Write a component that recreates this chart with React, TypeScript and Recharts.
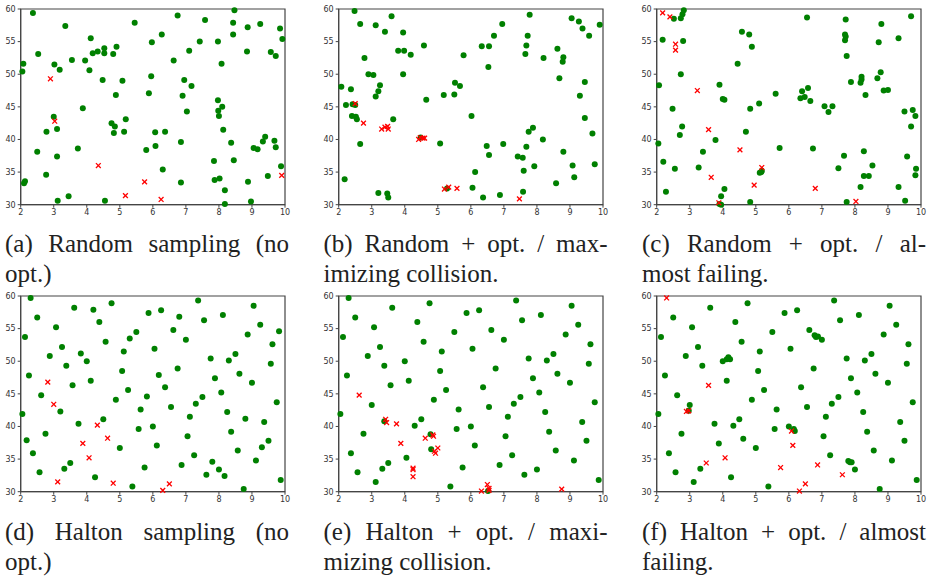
import { ScatterChart, Scatter, XAxis, YAxis, ReferenceArea } from "recharts"

type Pt = [number, number]

const xTicks = [2, 3, 4, 5, 6, 7, 8, 9, 10]
const yTicks = [30, 35, 40, 45, 50, 55, 60]

// (a) random sampling, no optimisation
const randomFree: Pt[] = [
  [2.37, 59.4], [3.35, 57.4], [5.45, 57.9], [6.75, 59.0], [7.58, 58.3], [8.47, 59.8], [8.43, 57.9],
  [8.87, 57.2], [9.25, 57.7], [9.85, 57.0], [9.92, 55.4], [8.43, 56.1], [6.27, 56.1], [7.42, 55.0],
  [7.97, 55.0], [5.97, 54.9], [4.12, 55.5], [4.53, 54.0], [4.9, 54.2], [4.33, 53.5], [4.18, 53.2],
  [4.53, 53.2], [4.8, 53.1], [7.1, 53.6], [8.85, 53.5], [9.57, 53.4], [9.72, 52.8], [2.53, 53.1],
  [2.08, 51.6], [3.02, 51.5], [3.18, 50.7], [3.55, 52.2], [3.95, 52.1], [4.08, 50.6], [6.63, 52.1],
  [8.08, 51.6], [2.05, 50.4], [4.48, 49.1], [5.08, 49.0], [5.95, 49.7], [6.95, 49.1], [7.17, 48.2],
  [5.88, 47.1], [4.88, 46.8], [6.9, 46.7], [7.97, 46.0], [8.1, 45.0], [7.98, 44.4], [8.0, 43.6],
  [7.03, 44.3], [3.88, 44.8], [3.0, 43.5], [5.18, 43.1], [4.75, 42.5], [4.85, 42.0], [3.1, 41.6],
  [2.78, 41.2], [4.82, 41.0], [5.13, 41.2], [6.07, 41.1], [6.37, 41.2], [8.13, 41.5], [9.4, 40.4],
  [9.33, 39.7], [9.68, 39.8], [9.05, 38.7], [9.17, 38.5], [9.72, 38.8], [8.37, 39.5], [6.85, 39.6],
  [6.08, 39.0], [3.73, 38.6], [5.8, 38.4], [2.5, 38.1], [3.1, 37.4], [7.85, 36.7], [8.45, 36.8],
  [9.88, 35.9], [9.48, 34.4], [6.3, 35.4], [2.77, 34.6], [2.13, 33.6], [2.1, 33.3], [6.85, 33.4],
  [7.87, 33.8], [8.02, 34.0], [8.88, 33.5], [8.18, 32.2], [3.45, 31.3], [3.12, 30.6], [4.55, 30.6],
  [8.97, 30.5], [8.18, 30.1],
]
const randomHit: Pt[] = [
  [2.9, 49.3], [3.03, 42.8], [4.35, 36.0], [5.75, 33.5], [5.17, 31.4], [6.25, 30.8], [9.9, 34.5],
]

// (b) random + opt, maximizing collision
const randomMaxFree: Pt[] = [
  [2.48, 59.7], [3.6, 58.9], [2.65, 57.7], [3.12, 57.5], [3.4, 56.5], [3.95, 56.4], [6.95, 57.7],
  [7.78, 59.1], [9.05, 58.6], [9.27, 58.1], [9.38, 57.0], [9.9, 57.6], [9.58, 55.9], [7.72, 55.9],
  [6.7, 55.9], [4.58, 54.4], [6.33, 54.3], [6.55, 54.3], [7.68, 54.4], [7.65, 53.1], [8.62, 53.9],
  [3.8, 53.6], [3.98, 53.6], [4.18, 53.0], [5.78, 52.9], [2.78, 52.5], [8.2, 52.5], [8.8, 52.6],
  [8.78, 51.9], [6.53, 51.1], [2.9, 50.0], [3.05, 49.9], [3.95, 50.0], [8.68, 49.4], [9.45, 48.8],
  [5.52, 48.7], [5.67, 48.2], [3.25, 48.3], [2.08, 48.1], [2.37, 47.7], [3.2, 47.4], [5.18, 46.8],
  [5.5, 46.9], [3.12, 46.6], [9.3, 46.7], [4.65, 46.1], [2.22, 45.3], [2.42, 45.4], [2.5, 45.3],
  [2.4, 43.6], [2.52, 43.5], [2.55, 43.1], [3.65, 43.1], [6.02, 43.6], [9.45, 43.3], [7.88, 41.8],
  [7.75, 41.2], [9.68, 40.9], [4.48, 40.3], [8.18, 40.0], [5.07, 39.4], [2.65, 39.3], [6.98, 39.3],
  [6.48, 39.0], [7.68, 38.9], [8.8, 38.1], [6.55, 37.6], [7.42, 37.4], [7.57, 37.2], [9.75, 36.2],
  [7.92, 35.9], [9.08, 36.0], [6.13, 35.0], [7.6, 35.2], [9.13, 34.2], [2.18, 33.9], [8.58, 33.3],
  [6.05, 32.6], [5.28, 32.5], [7.58, 32.0], [3.2, 31.8], [3.47, 31.7], [3.5, 31.1], [6.37, 31.1],
  [6.88, 31.5],
]
const randomMaxHit: Pt[] = [
  [2.5, 45.5], [2.75, 42.5], [3.3, 41.6], [3.4, 41.9], [3.48, 42.0], [3.5, 41.6], [4.42, 40.0],
  [4.47, 40.3], [4.55, 40.2], [4.6, 40.2], [5.2, 32.4], [5.33, 32.7], [5.58, 32.5], [7.47, 30.9],
]

// (c) random + opt, almost failing
const randomEdgeFree: Pt[] = [
  [2.82, 59.8], [2.78, 59.2], [2.73, 58.6], [2.52, 58.5], [6.55, 58.7], [7.72, 58.4], [9.7, 58.9],
  [8.8, 57.7], [4.58, 56.5], [4.8, 56.1], [7.7, 56.1], [7.72, 55.8], [7.7, 55.2], [2.18, 55.3],
  [2.8, 55.1], [8.72, 54.9], [9.32, 55.5], [4.88, 54.2], [7.75, 52.8], [4.45, 51.6], [8.78, 50.3],
  [2.73, 50.0], [8.2, 49.6], [8.2, 49.2], [8.68, 49.4], [8.17, 48.7], [7.88, 48.8], [2.07, 48.3],
  [3.9, 48.4], [6.58, 47.9], [8.87, 47.5], [9.0, 47.6], [6.4, 47.4], [5.6, 47.0], [8.32, 46.8],
  [6.35, 46.3], [6.48, 46.5], [6.65, 45.9], [4.0, 46.2], [4.05, 46.1], [7.08, 45.1], [7.32, 45.1],
  [7.2, 44.2], [5.1, 45.5], [4.83, 44.7], [2.48, 44.7], [9.5, 44.3], [9.75, 44.5], [9.83, 43.6],
  [9.7, 42.0], [2.77, 42.0], [4.7, 41.2], [2.7, 40.7], [3.78, 39.9], [2.05, 39.4], [5.72, 38.7],
  [6.73, 38.6], [8.27, 38.2], [3.4, 38.1], [7.67, 37.5], [9.58, 37.4], [2.2, 36.6], [8.53, 36.0],
  [3.27, 35.7], [2.55, 35.5], [7.5, 35.6], [5.12, 34.9], [5.17, 35.0], [5.18, 35.2], [9.85, 35.5],
  [8.27, 34.4], [8.42, 34.4], [9.83, 34.5], [4.05, 32.4], [2.28, 32.0], [8.17, 32.7], [9.32, 32.7],
  [3.95, 31.3], [9.52, 30.6], [7.75, 30.4], [4.83, 30.4], [3.9, 30.1], [3.95, 30.0],
]
const randomEdgeHit: Pt[] = [
  [2.18, 59.4], [2.4, 58.8], [2.57, 54.6], [2.57, 53.7], [3.23, 47.5], [3.57, 41.5], [3.65, 34.2],
  [4.52, 38.4], [4.95, 33.0], [5.18, 35.7], [6.8, 32.5], [8.03, 30.5], [3.88, 30.3],
]

// (d) Halton sampling, no optimisation
const haltonFree: Pt[] = [
  [2.3, 59.7], [3.62, 58.2], [4.75, 58.9], [4.2, 57.9], [2.5, 56.7], [5.87, 57.4], [6.25, 57.8],
  [7.37, 59.3], [9.05, 58.5], [8.12, 57.1], [6.8, 56.8], [7.55, 56.3], [4.38, 56.0], [3.07, 55.2],
  [9.25, 55.6], [6.62, 54.8], [9.82, 54.6], [2.13, 53.7], [5.5, 54.5], [5.3, 53.5], [7.0, 53.3],
  [4.57, 53.0], [8.87, 54.1], [3.25, 52.2], [6.05, 51.9], [9.62, 52.6], [3.82, 51.2], [5.12, 51.5],
  [2.88, 50.8], [4.0, 50.0], [7.75, 50.4], [8.3, 50.1], [8.5, 51.1], [9.57, 49.6], [3.38, 49.3],
  [5.07, 48.5], [6.75, 48.9], [2.25, 47.8], [6.18, 47.9], [8.62, 48.1], [7.88, 47.4], [4.12, 47.0],
  [9.0, 46.7], [3.57, 46.3], [6.37, 46.0], [5.25, 45.6], [8.07, 45.2], [2.62, 44.8], [5.82, 44.6],
  [7.5, 44.5], [4.88, 44.1], [9.75, 43.7], [7.3, 43.5], [6.55, 43.0], [5.63, 42.6], [3.2, 42.3],
  [8.25, 42.2], [2.05, 41.9], [7.12, 41.5], [8.8, 41.2], [4.5, 41.1], [3.75, 40.4], [6.0, 40.0],
  [9.37, 40.7], [5.57, 39.6], [8.37, 39.2], [2.75, 38.9], [7.05, 38.5], [2.18, 37.9], [9.5, 37.8],
  [6.12, 37.1], [5.0, 36.7], [9.3, 36.8], [8.57, 36.3], [2.37, 35.9], [7.25, 35.6], [9.12, 34.8],
  [7.8, 34.6], [3.5, 34.4], [6.87, 34.1], [5.75, 33.7], [3.32, 33.5], [8.0, 33.4], [2.57, 33.0],
  [7.62, 32.6], [8.17, 32.4], [4.25, 32.2], [9.87, 31.8], [5.38, 30.8], [8.75, 30.4],
]
const haltonHit: Pt[] = [
  [2.82, 46.8], [3.0, 43.4], [4.32, 40.2], [3.88, 37.4], [4.63, 38.2], [4.07, 35.2], [3.12, 31.5],
  [4.8, 31.3], [6.3, 30.2], [6.5, 31.2],
]

// (e) Halton + opt, maximizing collision
const haltonMaxFree: Pt[] = [
  [2.3, 59.7], [3.62, 58.2], [4.75, 58.9], [2.5, 56.7], [5.87, 57.4], [6.25, 57.8], [7.37, 59.3],
  [9.05, 58.5], [8.12, 57.1], [7.55, 56.3], [4.38, 56.0], [3.07, 55.2], [9.25, 55.6], [6.62, 54.8],
  [2.13, 53.7], [5.5, 54.5], [7.0, 53.3], [4.57, 53.0], [8.87, 54.1], [3.25, 52.2], [6.05, 51.9],
  [9.62, 52.6], [5.12, 51.5], [2.88, 50.8], [4.0, 50.0], [7.75, 50.4], [8.3, 50.1], [8.5, 51.1],
  [9.57, 49.6], [3.38, 49.3], [5.07, 48.5], [6.75, 48.9], [2.25, 47.8], [8.62, 48.1], [7.88, 47.4],
  [4.12, 47.0], [9.0, 46.7], [3.57, 46.3], [6.37, 46.0], [5.25, 45.6], [8.07, 45.2], [7.5, 44.5],
  [4.88, 44.1], [9.75, 43.7], [7.3, 43.5], [6.55, 43.0], [5.63, 42.6], [3.0, 43.3], [8.25, 42.2],
  [2.05, 41.9], [7.12, 41.5], [4.5, 41.1], [9.37, 40.7], [3.38, 40.8], [4.3, 40.1], [6.0, 40.0],
  [5.57, 39.6], [8.37, 39.2], [2.75, 38.9], [7.05, 38.5], [4.78, 38.8], [9.5, 37.8], [6.12, 37.1],
  [4.8, 36.5], [8.57, 36.3], [2.37, 35.9], [7.25, 35.6], [9.12, 34.8], [4.05, 35.2], [3.5, 34.4],
  [6.87, 34.1], [5.75, 33.7], [3.32, 33.5], [8.0, 33.4], [2.57, 33.0], [7.62, 32.6], [3.12, 31.5],
  [9.87, 31.8], [5.38, 30.8], [6.52, 30.1],
]
const haltonMaxHit: Pt[] = [
  [2.62, 44.8], [3.42, 41.1], [3.45, 40.6], [3.75, 40.4], [3.88, 37.4], [4.62, 38.2], [4.85, 38.7],
  [4.87, 38.5], [5.0, 36.7], [4.9, 36.2], [4.93, 35.9], [4.25, 33.6], [4.25, 33.4], [4.25, 32.3],
  [6.5, 31.1], [6.55, 30.5], [6.55, 30.2], [6.32, 30.1], [8.75, 30.4],
]

// (f) Halton + opt, almost failing
const haltonEdgeFree: Pt[] = [
  [3.62, 58.2], [4.75, 58.9], [2.5, 56.7], [5.87, 57.4], [6.25, 57.8], [7.37, 59.3], [9.05, 58.5],
  [8.12, 57.1], [7.55, 56.3], [4.38, 56.0], [3.07, 55.2], [9.25, 55.6], [6.62, 54.8], [2.13, 53.7],
  [5.5, 54.5], [6.78, 54.0], [6.82, 53.7], [6.88, 53.8], [7.0, 53.3], [4.57, 53.0], [8.87, 54.1],
  [3.25, 52.2], [6.05, 51.9], [9.62, 52.6], [5.12, 51.5], [2.88, 50.8], [4.0, 50.0], [4.12, 50.3],
  [4.17, 50.6], [4.22, 50.3], [7.75, 50.4], [8.3, 50.1], [8.5, 51.1], [9.57, 49.6], [3.38, 49.3],
  [5.07, 48.5], [6.75, 48.9], [2.25, 47.8], [8.62, 48.1], [7.88, 47.4], [4.12, 47.0], [9.0, 46.7],
  [6.37, 46.0], [5.25, 45.6], [8.07, 45.2], [2.62, 44.8], [7.5, 44.5], [4.88, 44.1], [9.75, 43.7],
  [7.3, 43.5], [6.55, 43.0], [5.63, 42.6], [3.0, 43.3], [2.97, 42.4], [8.25, 42.2], [2.05, 41.9],
  [7.12, 41.5], [4.5, 41.1], [9.37, 40.7], [3.75, 40.4], [4.32, 40.1], [6.0, 40.0], [6.15, 39.6],
  [6.18, 39.3], [5.57, 39.6], [8.37, 39.2], [2.75, 38.9], [7.05, 38.5], [4.62, 38.1], [3.88, 37.4],
  [9.5, 37.8], [5.0, 36.7], [8.57, 36.3], [2.37, 35.9], [7.25, 35.6], [9.12, 34.8], [7.8, 34.7],
  [7.85, 34.5], [7.9, 34.5], [3.32, 33.5], [8.0, 33.4], [2.57, 33.0], [4.25, 32.2], [3.12, 31.5],
  [9.87, 31.8], [5.38, 30.8], [8.75, 30.4],
]
const haltonEdgeHit: Pt[] = [
  [2.3, 59.7], [3.57, 46.3], [2.9, 42.3], [2.97, 42.4], [6.08, 39.3], [6.12, 37.1], [3.5, 34.4],
  [4.07, 35.2], [5.75, 33.7], [6.87, 34.1], [7.62, 32.6], [6.5, 31.2], [6.32, 30.1],
]

const captions: string[][] = [
  ["(a) Random sampling (no", "opt.)"],
  ["(b) Random + opt. / max-", "imizing collision."],
  ["(c) Random + opt. / al-", "most failing."],
  ["(d) Halton sampling (no", "opt.)"],
  ["(e) Halton + opt. / maxi-", "mizing collision."],
  ["(f) Halton + opt. / almost", "failing."],
]

const panels: { free: Pt[]; hit: Pt[] }[] = [
  { free: randomFree, hit: randomHit },
  { free: randomMaxFree, hit: randomMaxHit },
  { free: randomEdgeFree, hit: randomEdgeHit },
  { free: haltonFree, hit: haltonHit },
  { free: haltonMaxFree, hit: haltonMaxHit },
  { free: haltonEdgeFree, hit: haltonEdgeHit },
]

const toRows = (pts: Pt[]) => pts.map(([x, y]) => ({ x, y }))

const GreenDot = (props: any) => (
  <circle cx={props.cx} cy={props.cy} r={3} fill="#008000" />
)

const RedCross = (props: any) => {
  const { cx, cy } = props
  const s = 2.4
  return (
    <g stroke="#ff0000" strokeWidth={1.3}>
      <line x1={cx - s} y1={cy - s} x2={cx + s} y2={cy + s} />
      <line x1={cx - s} y1={cy + s} x2={cx + s} y2={cy - s} />
    </g>
  )
}

const tickStyle = { fontSize: 8, fill: "#333", fontFamily: "DejaVu Sans" }

function Panel({ free, hit }: { free: Pt[]; hit: Pt[] }) {
  return (
    <ScatterChart width={296} height={225} margin={{ top: 9, right: 11, left: 0, bottom: 0.3 }}>
      <XAxis
        type="number"
        dataKey="x"
        domain={[2, 10]}
        ticks={xTicks}
        interval={0}
        height={20}
        tickSize={3}
        tick={tickStyle}
        stroke="#444"
      />
      <YAxis
        type="number"
        dataKey="y"
        domain={[30, 60]}
        ticks={yTicks}
        interval={0}
        width={20.7}
        tickSize={3}
        tick={tickStyle}
        stroke="#444"
      />
      <ReferenceArea x1={2} x2={10} y1={30} y2={60} fill="none" stroke="#444" strokeWidth={1.2} />
      <Scatter data={toRows(free)} shape={GreenDot} isAnimationActive={false} />
      <Scatter data={toRows(hit)} shape={RedCross} isAnimationActive={false} />
    </ScatterChart>
  )
}

export default function App() {
  return (
    <div style={{ position: "absolute", left: 0, top: 0, width: 932, height: 578, overflow: "hidden", background: "#fff" }}>
      {panels.map((p, i) => {
        const col = i % 3
        const row = Math.floor(i / 3)
        return (
          <div key={i} style={{ position: "absolute", left: 318 * col, top: row === 0 ? 0 : 287 }}>
            <Panel free={p.free} hit={p.hit} />
          </div>
        )
      })}
      {captions.map((lines, i) => {
        const col = i % 3
        const row = Math.floor(i / 3)
        return (
          <div
            key={i}
            style={{
              position: "absolute",
              left: 5 + 318.5 * col,
              top: row === 0 ? 228.6 : 516.6,
              width: 284,
              fontFamily: '"Liberation Serif", serif',
              fontSize: 25,
              lineHeight: "30px",
              color: "#222",
            }}
          >
            <div style={{ textAlign: "justify", textAlignLast: "justify" }}>{lines[0]}</div>
            <div>{lines[1]}</div>
          </div>
        )
      })}
    </div>
  )
}
